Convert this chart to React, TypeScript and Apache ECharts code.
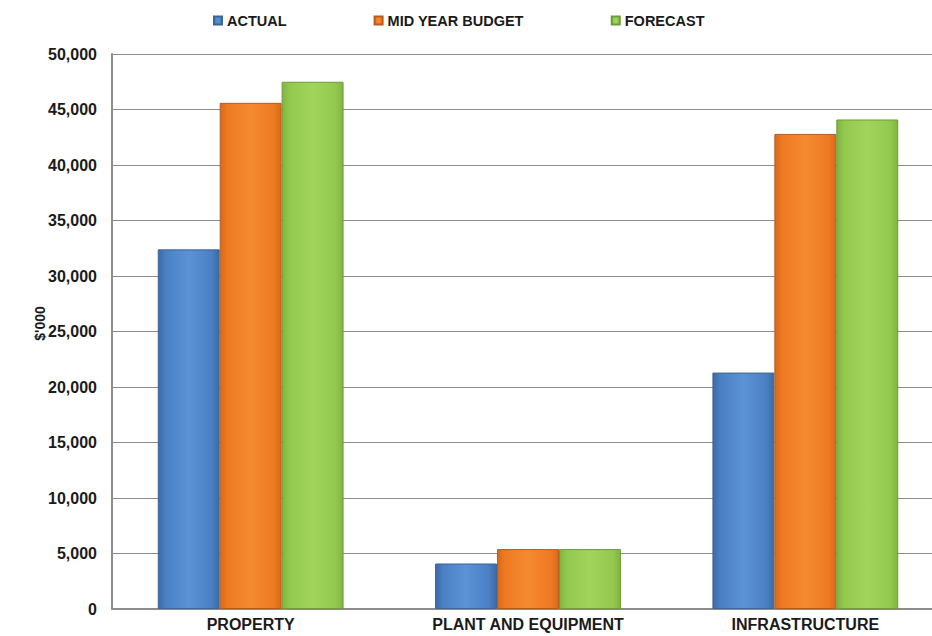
import React, { useEffect, useRef } from "react";
import * as echarts from "echarts";

const categories = ["PROPERTY", "PLANT AND EQUIPMENT", "INFRASTRUCTURE"];
const seriesNames = ["ACTUAL", "MID YEAR BUDGET", "FORECAST"];
const actual = [32400, 4100, 21300];
const midYearBudget = [45600, 5400, 42800];
const forecast = [47500, 5400, 44100];
const yTicks = [0, 5000, 10000, 15000, 20000, 25000, 30000, 35000, 40000, 45000, 50000];

const palette = [
  { light: "#5b93d6", mid: "#4a7fc4", dark: "#3a6aa8", border: "#3d6596" },
  { light: "#f58a30", mid: "#ee7a22", dark: "#d9691a", border: "#b85c1c" },
  { light: "#a2d45c", mid: "#93c84f", dark: "#80b440", border: "#6f9a3a" },
];

function grad(p: typeof palette[number]) {
  return new echarts.graphic.LinearGradient(0, 0, 1, 0, [
    { offset: 0, color: p.dark },
    { offset: 0.12, color: p.mid },
    { offset: 0.5, color: p.light },
    { offset: 0.88, color: p.mid },
    { offset: 1, color: p.dark },
  ]);
}

export default function App() {
  const ref = useRef<HTMLDivElement>(null);
  useEffect(() => {
    if (!ref.current) return;
    const chart = echarts.init(ref.current, null, { renderer: "svg" });
    const data = [actual, midYearBudget, forecast];
    const font = "Liberation Sans, Arial, sans-serif";
    chart.setOption({
      animation: false,
      backgroundColor: "#ffffff",
      textStyle: { fontFamily: font },
      legend: {
        top: 8,
        left: 208,
        icon: "rect",
        itemWidth: 8,
        itemHeight: 8,
        itemGap: 87,
        textStyle: { fontSize: 14.5, fontWeight: "bold", color: "#1a1a1a", fontFamily: font },
        data: seriesNames,
      },
      grid: { left: 112, right: 0, top: 54, bottom: 27, containLabel: false },
      xAxis: {
        type: "category",
        data: categories,
        axisLine: { lineStyle: { color: "#8c8c8c", width: 2 } },
        axisTick: { show: false },
        axisLabel: { fontSize: 16, fontWeight: "bold", color: "#1a1a1a", margin: 7, fontFamily: font },
      },
      yAxis: {
        type: "value",
        min: yTicks[0],
        max: yTicks[yTicks.length - 1],
        interval: yTicks[1] - yTicks[0],
        name: "$'000",
        nameLocation: "middle",
        nameRotate: 90,
        nameGap: 65,
        nameMoveOverlap: false,
        nameTextStyle: { fontSize: 14, fontWeight: "bold", color: "#1a1a1a", fontFamily: font, padding: [0, 0, 0, 16] },
        axisLine: { show: true, lineStyle: { color: "#8c8c8c", width: 2 } },
        axisTick: { show: false },
        axisLabel: {
          fontSize: 16,
          fontWeight: "bold",
          color: "#1a1a1a",
          margin: 15,
          fontFamily: font,
          formatter: (v: number) => v.toLocaleString("en-US"),
        },
        splitLine: { lineStyle: { color: "#8c8c8c", width: 1 } },
      },
      series: seriesNames.map((name, i) => ({
        name,
        type: "bar",
        data: data[i],
        barGap: "0%",
        barCategoryGap: "33%",
        itemStyle: { color: grad(palette[i]), borderColor: palette[i].border, borderWidth: 1 },
      })),
      color: palette.map((p) => p.mid),
    });
    return () => chart.dispose();
  }, []);
  return (
    <div style={{ position: "absolute", left: 0, top: 0, width: 932, height: 636, overflow: "hidden" }}>
      <div ref={ref} style={{ width: 944, height: 636 }} />
    </div>
  );
}
